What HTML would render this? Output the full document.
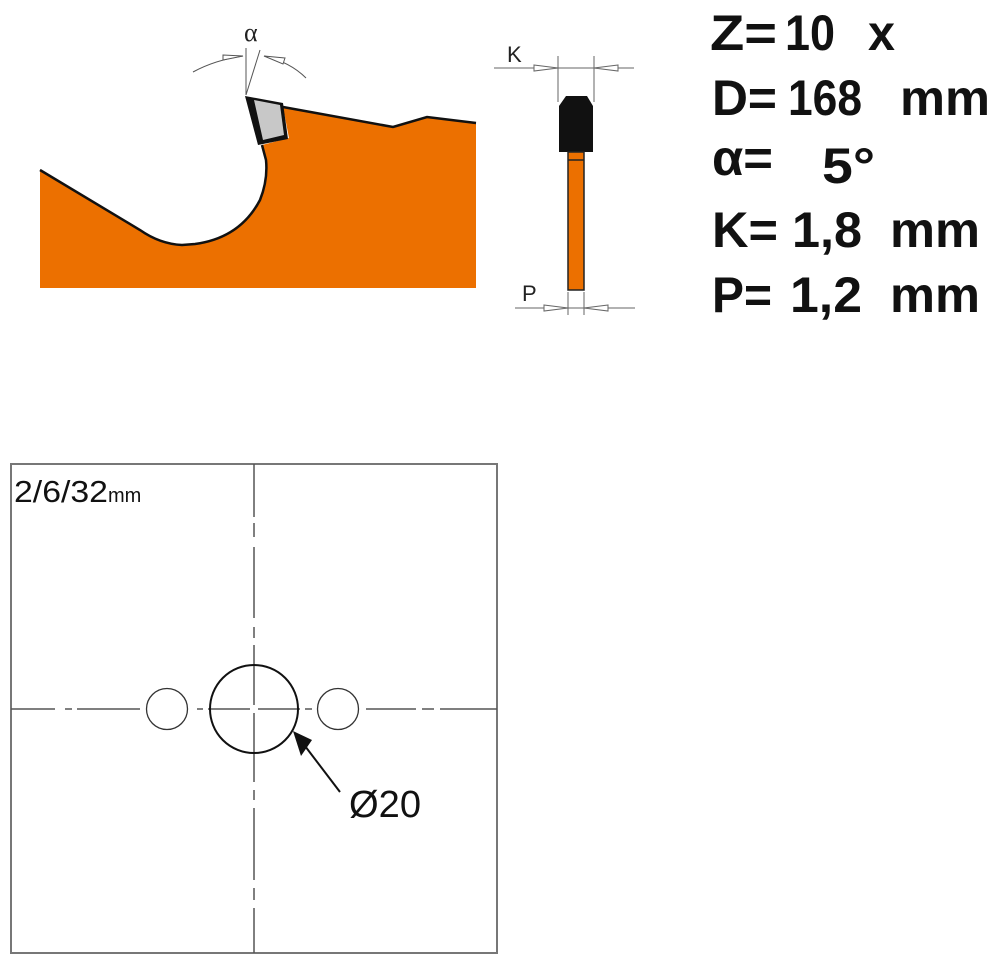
<!DOCTYPE html>
<html><head><meta charset="utf-8"><style>
html,body{margin:0;padding:0;background:#fff;}
svg{display:block;}
</style></head><body>
<svg width="1000" height="964" viewBox="0 0 1000 964" xmlns="http://www.w3.org/2000/svg">
<!-- saw body -->
<path d="M40,170 L140,230 Q160,244 182,245 L195,244 Q240,238 260,200 Q268,180 266,160 L262,145 L289,138 L283,107 L393,127 L427,117 L476,123 L476,288 L40,288 Z" fill="#ec7000" stroke="none"/>
<path d="M40,170 L140,230 Q160,244 182,245 L195,244 Q240,238 260,200 Q268,180 266,160 L262,145" fill="none" stroke="#111" stroke-width="2.5"/>
<path d="M283,107 L393,127 L427,117 L476,123" fill="none" stroke="#111" stroke-width="2.5"/>
<!-- tooth -->
<polygon points="245,96 283,103 288,139 258,145" fill="#111"/>
<polygon points="254,100 280,105 284,135 263,140" fill="#c8c8c8"/>
<!-- alpha dims -->
<line x1="246" y1="48" x2="246" y2="95" stroke="#555" stroke-width="1"/>
<line x1="260" y1="50" x2="246" y2="95" stroke="#555" stroke-width="1"/>
<path d="M193,72 Q215,60 243,56" fill="none" stroke="#555" stroke-width="1"/>
<path d="M264,56 Q290,62 306,78" fill="none" stroke="#555" stroke-width="1"/>
<polygon points="223,55 243,56 223,60" fill="#fff" stroke="#555" stroke-width="1"/>
<polygon points="285,58 264,56 283,64" fill="#fff" stroke="#555" stroke-width="1"/>
<text x="244" y="41" font-family="Liberation Serif, serif" font-size="26" fill="#222">α</text>
<!-- side view -->
<line x1="494" y1="68" x2="634" y2="68" stroke="#666" stroke-width="1"/>
<line x1="558" y1="56" x2="558" y2="102" stroke="#666" stroke-width="1"/>
<line x1="594" y1="56" x2="594" y2="102" stroke="#666" stroke-width="1"/>
<polygon points="534,65 558,68 534,71" fill="#fff" stroke="#666" stroke-width="1"/>
<polygon points="618,65 594,68 618,71" fill="#fff" stroke="#666" stroke-width="1"/>
<text x="507" y="62" font-family="Liberation Sans, sans-serif" font-size="22" fill="#222">K</text>
<polygon points="566,96 587,96 593,106 593,152 559,152 559,106" fill="#111"/>
<rect x="568" y="152" width="16" height="138" fill="#ec7000" stroke="#222" stroke-width="1.5"/>
<line x1="568" y1="160" x2="584" y2="160" stroke="#222" stroke-width="1.5"/>
<line x1="515" y1="308" x2="635" y2="308" stroke="#666" stroke-width="1"/>
<line x1="568" y1="292" x2="568" y2="315" stroke="#666" stroke-width="1"/>
<line x1="584" y1="292" x2="584" y2="315" stroke="#666" stroke-width="1"/>
<polygon points="544,305 568,308 544,311" fill="#fff" stroke="#666" stroke-width="1"/>
<polygon points="608,305 584,308 608,311" fill="#fff" stroke="#666" stroke-width="1"/>
<text x="522" y="301" font-family="Liberation Sans, sans-serif" font-size="22" fill="#222">P</text>
<!-- specs -->
<g font-family="Liberation Sans, sans-serif" font-weight="bold" font-size="50" fill="#111">
<text x="710" y="50" textLength="67" lengthAdjust="spacingAndGlyphs">Z=</text>
<text x="785" y="50" textLength="50" lengthAdjust="spacingAndGlyphs">10</text>
<text x="868" y="50" textLength="27" lengthAdjust="spacingAndGlyphs">x</text>
<text x="712" y="115" textLength="65" lengthAdjust="spacingAndGlyphs">D=</text>
<text x="788" y="115" textLength="74" lengthAdjust="spacingAndGlyphs">168</text>
<text x="900" y="115" textLength="90" lengthAdjust="spacingAndGlyphs">mm</text>
<text x="712" y="175" textLength="61" lengthAdjust="spacingAndGlyphs">α=</text>
<text x="822" y="183" textLength="53" lengthAdjust="spacingAndGlyphs">5°</text>
<text x="712" y="247" textLength="66" lengthAdjust="spacingAndGlyphs">K=</text>
<text x="792" y="247" textLength="70" lengthAdjust="spacingAndGlyphs">1,8</text>
<text x="890" y="247" textLength="90" lengthAdjust="spacingAndGlyphs">mm</text>
<text x="712" y="312" textLength="60" lengthAdjust="spacingAndGlyphs">P=</text>
<text x="790" y="312" textLength="72" lengthAdjust="spacingAndGlyphs">1,2</text>
<text x="890" y="312" textLength="90" lengthAdjust="spacingAndGlyphs">mm</text>
</g>
<!-- bottom square -->
<rect x="11" y="464" width="486" height="489" fill="none" stroke="#777" stroke-width="2"/>
<g stroke="#555" stroke-width="1.5">
<line x1="254" y1="464" x2="254" y2="517"/>
<line x1="254" y1="523" x2="254" y2="537"/>
<line x1="254" y1="547" x2="254" y2="618"/>
<line x1="254" y1="627" x2="254" y2="638"/>
<line x1="254" y1="645" x2="254" y2="705"/>
<line x1="254" y1="713" x2="254" y2="782"/>
<line x1="254" y1="790" x2="254" y2="800"/>
<line x1="254" y1="808" x2="254" y2="880"/>
<line x1="254" y1="888" x2="254" y2="900"/>
<line x1="254" y1="908" x2="254" y2="953"/>
<line x1="11" y1="709" x2="55" y2="709"/>
<line x1="65" y1="709" x2="72" y2="709"/>
<line x1="77" y1="709" x2="140" y2="709"/>
<line x1="197" y1="709" x2="203" y2="709"/>
<line x1="208" y1="709" x2="250" y2="709"/>
<line x1="258" y1="709" x2="300" y2="709"/>
<line x1="305" y1="709" x2="312" y2="709"/>
<line x1="366" y1="709" x2="416" y2="709"/>
<line x1="422" y1="709" x2="434" y2="709"/>
<line x1="440" y1="709" x2="497" y2="709"/>
</g>
<circle cx="254" cy="709" r="44" fill="none" stroke="#111" stroke-width="2"/>
<circle cx="167" cy="709" r="20.5" fill="none" stroke="#333" stroke-width="1.3"/>
<circle cx="338" cy="709" r="20.5" fill="none" stroke="#333" stroke-width="1.3"/>
<line x1="340" y1="792" x2="305" y2="746" stroke="#111" stroke-width="2"/>
<polygon points="293,731 312,740 301,756" fill="#111"/>
<text x="349" y="817" font-family="Liberation Sans, sans-serif" font-size="38" fill="#111" textLength="72" lengthAdjust="spacingAndGlyphs">Ø20</text>
<text x="14" y="502" font-family="Liberation Sans, sans-serif" font-size="31" fill="#111"><tspan textLength="94" lengthAdjust="spacingAndGlyphs">2/6/32</tspan><tspan font-size="20">mm</tspan></text>
</svg>
</body></html>
